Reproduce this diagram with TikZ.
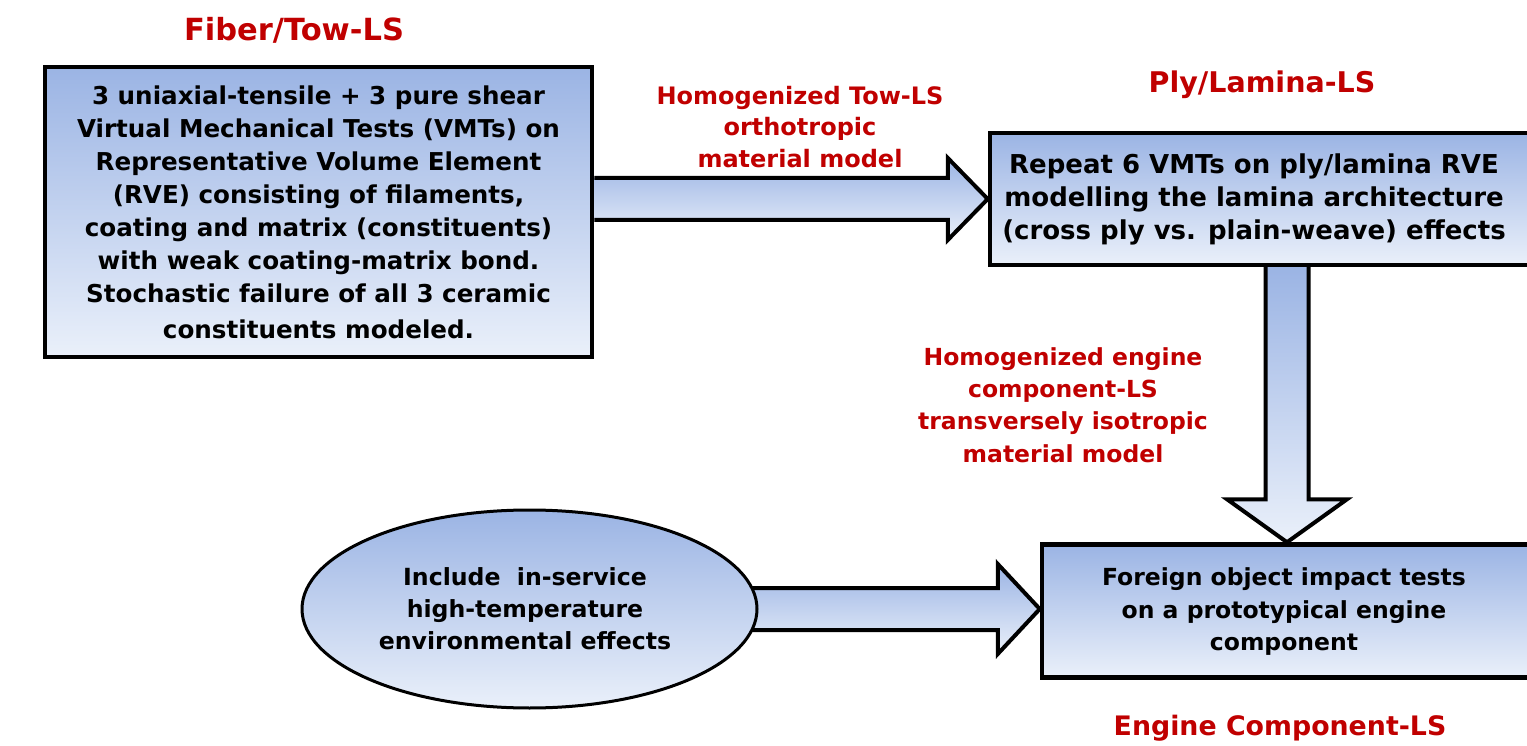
\documentclass[tikz,border=0pt]{standalone}
\usepackage{fontspec}
\setmainfont{DejaVu Sans}
\usetikzlibrary{calc,shapes.geometric,backgrounds}
\definecolor{lsred}{RGB}{192,0,0}
\definecolor{topblue}{RGB}{155,180,228}
\definecolor{botblue}{RGB}{234,240,250}
\tikzset{
  procbox/.style={draw=black, line width=4.5pt, top color=topblue, bottom color=botblue,
    align=center, inner sep=0pt},
  boxtext/.style={align=center, inner sep=0pt},
  envell/.style={ellipse, draw=black, line width=3pt, top color=topblue, bottom color=botblue,
    inner sep=0pt},
  lstitle/.style={text=lsred, font=\bfseries\fontsize{29}{34}\selectfont},
  arrlabel/.style={text=lsred, align=center},
  blockarrow/.style={draw=black, line width=4pt, line join=miter, top color=topblue, bottom color=botblue},
}
\begin{document}
\begin{tikzpicture}[x=1pt,y=-1pt]
\useasboundingbox (0,0) rectangle (1527,746);
% boxes
\node[procbox, minimum width=547, minimum height=290, font=\bfseries\fontsize{24.6}{33}\selectfont] (b1) at (318.5,212)
  {3 uniaxial-tensile + 3 pure shear\\Virtual Mechanical Tests (VMTs) on\\Representative Volume Element\\(RVE) consisting of filaments,\\coating and matrix (constituents)\\with weak coating-matrix bond.\\Stochastic failure of all 3 ceramic\\[3pt]constituents modeled.};
\node[procbox, minimum width=550, minimum height=132] (b2) at (1265,199) {};
\node[boxtext, font=\bfseries\fontsize{26}{33}\selectfont] (b2t) at (1254,199)
  {Repeat 6 VMTs on ply/lamina RVE\\modelling the lamina architecture\\(cross ply vs. plain-weave) effects};
\node[procbox, minimum width=490, minimum height=133] (b3) at (1287,611) {};
\node[boxtext, font=\bfseries\fontsize{23.5}{32.5}\selectfont] (b3t) at (1284,612)
  {Foreign object impact tests\\on a prototypical engine\\component};
\node[envell, minimum width=455, minimum height=198] (ell) at (529.5,609) {};
\node[boxtext, font=\bfseries\fontsize{23.6}{32}\selectfont] (ellt) at (525,609)
  {Include~~in-service\\high-temperature\\environmental effects};
% titles
\node[lstitle, font=\bfseries\fontsize{30.5}{34}\selectfont] (t1) at (294,30) {Fiber/Tow-LS};
\node[lstitle, font=\bfseries\fontsize{28.5}{34}\selectfont] (t2) at (1262,85) {Ply/Lamina-LS};
\node[lstitle, font=\bfseries\fontsize{26.8}{34}\selectfont] (t3) at (1280,728) {Engine Component-LS};
% arrow labels
\node[arrlabel, font=\bfseries\fontsize{24}{31.5}\selectfont] (l1) at (800,127) {Homogenized Tow-LS\\orthotropic\\material model};
\node[arrlabel, font=\bfseries\fontsize{23.5}{32.3}\selectfont] (l2) at (1063,405) {Homogenized engine\\component-LS\\transversely isotropic\\material model};
% block arrows
\begin{scope}[on background layer]
\path[blockarrow] let \p1=(b1.east |- b2.west), \p2=(b2.west) in
  ({\x1},{\y1+21pt}) -- ({\x2-40pt},{\y1+21pt}) -- ({\x2-40pt},{\y1+41pt}) -- (\x2,\y2)
  -- ({\x2-40pt},{\y1-41pt}) -- ({\x2-40pt},{\y1-21pt}) -- ({\x1},{\y1-21pt});
\path[blockarrow] let \p1=(b3.north |- b2.south), \p2=(b3.north) in
  ({\x1-21.5pt},{\y1}) -- ({\x1-21.5pt},{\y2+43pt}) -- ({\x1-60pt},{\y2+43pt}) -- (\x2,\y2)
  -- ({\x1+60pt},{\y2+43pt}) -- ({\x1+21.5pt},{\y2+43pt}) -- ({\x1+21.5pt},{\y1});
\path[blockarrow] let \p1=($(ell.east)+(-10,0)$), \p2=(b3.west |- ell.east) in
  ({\x1},{\y1+21pt}) -- ({\x2-42pt},{\y1+21pt}) -- ({\x2-42pt},{\y1+45pt}) -- (\x2,\y2)
  -- ({\x2-42pt},{\y1-45pt}) -- ({\x2-42pt},{\y1-21pt}) -- ({\x1},{\y1-21pt});
\end{scope}
\end{tikzpicture}
\end{document}
